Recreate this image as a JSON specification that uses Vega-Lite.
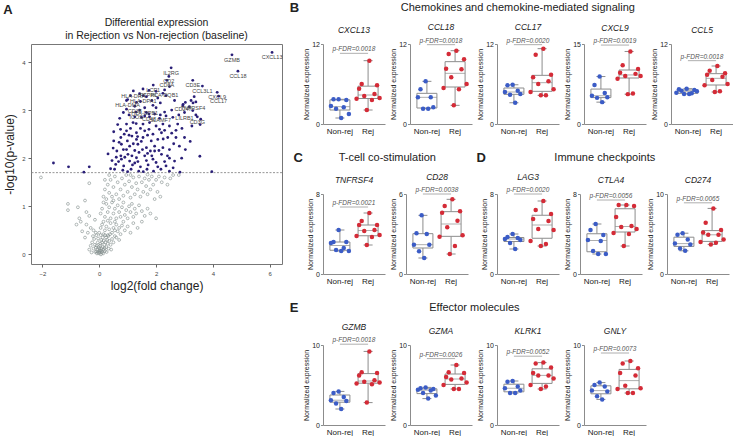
{
"$schema":"https://vega.github.io/schema/vega-lite/v6.json",
"padding":{"left":3,"top":2,"right":0,"bottom":0},
"config":{"view":{"stroke":null},"font":"Liberation Sans","title":{"color":"#222","font":"Liberation Sans"},"axis":{"labelFont":"Liberation Sans","titleFont":"Liberation Sans"}},
"datasets":{
"one":[{}],
"sig":[
{"x":6.08,"y":4.2,"l":"CXCL13"},{"x":4.67,"y":4.15,"l":"GZMB"},{"x":4.88,"y":3.81,"l":"CCL18"},{"x":2.53,"y":3.88,"l":"IL2RG"},{"x":2.45,"y":3.7,"l":"CD2"},{"x":2.38,"y":3.62,"l":"CD8A"},{"x":3.29,"y":3.62,"l":"CD3E"},{"x":3.63,"y":3.5,"l":"CCL3L1"},{"x":4.15,"y":3.37,"l":"CXCL9"},{"x":4.2,"y":3.29,"l":"CCL17"},{"x":1.9,"y":3.52,"l":"LCP1"},{"x":1.2,"y":3.4,"l":"HLA-DRA"},{"x":1.75,"y":3.41,"l":"PTPRC"},{"x":2.3,"y":3.42,"l":"HLA-DQB1"},{"x":1.0,"y":3.22,"l":"HLA-DMA"},{"x":1.55,"y":3.3,"l":"HLA-DPA1"},{"x":1.25,"y":3.08,"l":"CD38"},{"x":1.6,"y":3.05,"l":"HLA-DPB1"},{"x":1.3,"y":2.96,"l":"ICOS"},{"x":1.75,"y":2.92,"l":"CD48"},{"x":2.15,"y":2.9,"l":"SLAMF7"},{"x":3.3,"y":3.15,"l":"TNFRSF4"},{"x":2.95,"y":3.12,"l":"CD247"},{"x":3.0,"y":2.95,"l":"LILRB1"},{"x":3.45,"y":2.86,"l":"CD3G"},
{"x":2.47,"y":3.49},{"x":1.54,"y":3.44},{"x":2.0,"y":3.39},{"x":2.24,"y":3.35},{"x":1.42,"y":3.34},{"x":1.66,"y":3.28},{"x":2.35,"y":3.3},{"x":2.06,"y":3.25},{"x":0.96,"y":3.2},{"x":1.31,"y":3.16},{"x":1.89,"y":3.1},{"x":0.96,"y":3.02},{"x":1.42,"y":3.0},{"x":1.66,"y":2.95},{"x":2.3,"y":2.96},{"x":1.25,"y":2.86},{"x":1.49,"y":2.85},{"x":1.77,"y":2.86},{"x":2.12,"y":2.83},{"x":2.35,"y":2.88},{"x":2.59,"y":2.85},{"x":3.34,"y":3.28},{"x":3.23,"y":3.2},{"x":3.03,"y":3.16},{"x":3.4,"y":3.17},{"x":2.94,"y":3.09},{"x":3.17,"y":3.07},{"x":3.29,"y":2.99},{"x":3.4,"y":2.9},{"x":3.57,"y":2.81},{"x":3.26,"y":2.67},{"x":2.76,"y":2.71},{"x":2.91,"y":2.62},{"x":3.55,"y":2.7},
{"x":0.72,"y":2.83},{"x":0.51,"y":2.55},{"x":0.75,"y":2.6},{"x":0.96,"y":2.71},{"x":1.19,"y":2.74},{"x":1.54,"y":2.71},{"x":1.77,"y":2.74},{"x":2.0,"y":2.67},{"x":2.24,"y":2.71},{"x":2.47,"y":2.67},{"x":0.96,"y":2.57},{"x":1.31,"y":2.53},{"x":1.6,"y":2.57},{"x":1.89,"y":2.5},{"x":2.19,"y":2.53},{"x":0.76,"y":2.43},{"x":0.99,"y":2.36},{"x":1.31,"y":2.39},{"x":1.54,"y":2.43},{"x":1.83,"y":2.36},{"x":2.06,"y":2.39},{"x":2.41,"y":2.43},{"x":2.7,"y":2.43},{"x":3.0,"y":2.43},{"x":0.51,"y":2.36},{"x":0.78,"y":2.29},{"x":1.07,"y":2.25},{"x":1.36,"y":2.29},{"x":1.66,"y":2.22},{"x":1.95,"y":2.25},{"x":2.24,"y":2.22},{"x":2.82,"y":2.25},{"x":0.49,"y":2.21},{"x":0.96,"y":2.18},{"x":1.25,"y":2.16},{"x":1.52,"y":2.18},{"x":1.8,"y":2.15},{"x":2.1,"y":2.16},{"x":2.47,"y":2.18},{"x":3.03,"y":2.18},{"x":0.31,"y":2.09},{"x":0.76,"y":2.05},{"x":1.01,"y":2.08},{"x":1.31,"y":2.01},{"x":1.6,"y":2.05},{"x":1.89,"y":1.98},{"x":2.19,"y":2.08},{"x":2.47,"y":2.0},{"x":3.54,"y":2.04},{"x":0.78,"y":1.98},{"x":1.07,"y":1.94},{"x":1.36,"y":1.93},{"x":1.66,"y":1.95},{"x":2.0,"y":1.91},{"x":2.3,"y":1.93},{"x":2.65,"y":1.94},{"x":0.58,"y":1.87},{"x":0.86,"y":1.84},{"x":1.17,"y":1.86},{"x":1.45,"y":1.82},{"x":1.72,"y":1.86},{"x":2.06,"y":1.82},{"x":2.35,"y":1.84},{"x":0.54,"y":1.77},{"x":0.83,"y":1.75},{"x":1.12,"y":1.77},{"x":1.39,"y":1.73},{"x":1.68,"y":1.77},{"x":1.91,"y":1.73},{"x":2.17,"y":1.77},{"x":2.47,"y":1.73},{"x":2.84,"y":1.71},{"x":3.96,"y":1.72},{"x":-1.61,"y":1.9},{"x":-1.08,"y":1.82},{"x":-0.35,"y":1.82},{"x":-0.54,"y":1.71},
{"x":1.1,"y":2.62},{"x":1.45,"y":2.62},{"x":1.7,"y":2.48},{"x":2.3,"y":2.58},{"x":0.65,"y":2.7},{"x":0.85,"y":2.95},{"x":1.05,"y":2.9},{"x":2.55,"y":3.0},{"x":2.62,"y":2.3},{"x":1.15,"y":2.46},{"x":1.4,"y":2.12},{"x":0.62,"y":2.15},{"x":2.0,"y":3.05},{"x":1.1,"y":3.3},{"x":0.88,"y":2.5},{"x":2.7,"y":2.58},{"x":0.68,"y":1.93},{"x":1.0,"y":1.72},{"x":1.55,"y":1.72},{"x":1.25,"y":1.9},
{"x":0.9,"y":2.02},{"x":1.2,"y":2.3},{"x":1.48,"y":2.35},{"x":1.75,"y":2.6},{"x":2.12,"y":2.6},{"x":0.7,"y":2.33},{"x":1.05,"y":2.48},{"x":1.6,"y":2.88},{"x":1.95,"y":2.92},{"x":0.6,"y":2.02},{"x":1.85,"y":2.05},{"x":2.25,"y":2.4},{"x":0.45,"y":1.95},{"x":1.3,"y":2.72},{"x":1.15,"y":2.05},{"x":1.95,"y":2.15},{"x":2.55,"y":2.52},{"x":0.85,"y":2.18},{"x":1.35,"y":2.45},{"x":1.7,"y":2.1},{"x":2.4,"y":2.05},{"x":0.4,"y":1.78},{"x":2.6,"y":1.8},{"x":2.9,"y":2.0},{"x":3.2,"y":2.35},{"x":1.85,"y":3.2},{"x":1.45,"y":3.18},{"x":2.15,"y":3.15},{"x":2.65,"y":3.2},{"x":2.8,"y":2.9}
],
"ns":[
{"x":0,"y":0.02},{"x":0.02,"y":0.05},{"x":-0.03,"y":0.04},{"x":0.05,"y":0.08},{"x":-0.06,"y":0.1},{"x":0.08,"y":0.12},{"x":-0.1,"y":0.06},{"x":0.1,"y":0.04},{"x":0.12,"y":0.15},{"x":-0.12,"y":0.14},{"x":0.15,"y":0.1},{"x":0.18,"y":0.2},{"x":-0.15,"y":0.2},{"x":0.2,"y":0.07},{"x":0.22,"y":0.25},{"x":-0.2,"y":0.12},{"x":0.25,"y":0.15},{"x":0.28,"y":0.3},{"x":-0.25,"y":0.25},{"x":0.3,"y":0.22},{"x":0.03,"y":0.18},{"x":-0.05,"y":0.25},{"x":0.07,"y":0.3},{"x":0.35,"y":0.28},{"x":-0.3,"y":0.18},{"x":0.4,"y":0.2},{"x":0.12,"y":0.35},{"x":-0.18,"y":0.32},{"x":0.45,"y":0.32},{"x":0.0,"y":0.12},{"x":-0.08,"y":0.02},{"x":0.06,"y":0.0},{"x":0.14,"y":0.02},{"x":0.33,"y":0.12},{"x":-0.35,"y":0.1},
{"x":0.01,"y":0.08},{"x":-0.02,"y":0.15},{"x":0.04,"y":0.22},{"x":0.09,"y":0.06},{"x":-0.09,"y":0.18},{"x":0.16,"y":0.28},{"x":-0.14,"y":0.05},{"x":0.19,"y":0.13},{"x":0.24,"y":0.35},{"x":-0.22,"y":0.38},{"x":0.26,"y":0.05},{"x":0.32,"y":0.38},{"x":-0.04,"y":0.33},{"x":0.1,"y":0.25},{"x":0.38,"y":0.42},{"x":0.5,"y":0.25},{"x":-0.27,"y":0.04},{"x":0.6,"y":0.35},{"x":0.05,"y":0.4},{"x":-0.12,"y":0.45},{"x":0.2,"y":0.4},{"x":0.42,"y":0.1},{"x":0.55,"y":0.5},{"x":0.7,"y":0.3},
{"x":-0.5,"y":0.35},{"x":-0.4,"y":0.45},{"x":-0.6,"y":0.48},{"x":-0.3,"y":0.55},{"x":-0.45,"y":0.62},{"x":-0.2,"y":0.5},{"x":-0.1,"y":0.4},{"x":0.0,"y":0.45},{"x":0.05,"y":0.55},{"x":0.1,"y":0.62},{"x":0.15,"y":0.42},{"x":0.2,"y":0.5},{"x":0.25,"y":0.58},{"x":0.3,"y":0.4},{"x":0.35,"y":0.52},{"x":0.4,"y":0.65},{"x":0.45,"y":0.45},{"x":0.5,"y":0.55},{"x":0.55,"y":0.38},{"x":0.6,"y":0.62},{"x":0.65,"y":0.48},{"x":0.7,"y":0.55},{"x":0.75,"y":0.42},{"x":0.8,"y":0.6},{"x":0.9,"y":0.5},{"x":1.0,"y":0.58},{"x":1.1,"y":0.45},{"x":1.2,"y":0.65},{"x":1.35,"y":0.55},{"x":0.15,"y":0.68},{"x":0.3,"y":0.7},{"x":-0.65,"y":0.68},{"x":-0.8,"y":0.62},{"x":0.55,"y":0.68},{"x":0.85,"y":0.68},{"x":1.5,"y":0.68},
{"x":-0.7,"y":0.75},{"x":-0.35,"y":0.8},{"x":-0.15,"y":0.72},{"x":0.05,"y":0.85},{"x":0.1,"y":0.95},{"x":0.2,"y":0.78},{"x":0.25,"y":1.05},{"x":0.3,"y":0.88},{"x":0.35,"y":0.98},{"x":0.4,"y":0.75},{"x":0.45,"y":1.08},{"x":0.5,"y":0.85},{"x":0.55,"y":0.95},{"x":0.6,"y":0.75},{"x":0.65,"y":1.02},{"x":0.7,"y":0.88},{"x":0.75,"y":0.78},{"x":0.8,"y":0.98},{"x":0.85,"y":1.08},{"x":0.9,"y":0.82},{"x":0.95,"y":0.92},{"x":1.0,"y":0.75},{"x":1.05,"y":1.0},{"x":1.1,"y":0.88},{"x":1.15,"y":1.05},{"x":1.2,"y":0.78},{"x":1.25,"y":0.95},{"x":1.3,"y":0.85},{"x":1.4,"y":1.02},{"x":1.5,"y":0.9},{"x":1.6,"y":0.8},{"x":1.7,"y":0.95},{"x":1.8,"y":0.85},{"x":2.0,"y":0.75},{"x":-1.1,"y":1.05},{"x":-1.1,"y":0.92},{"x":-0.75,"y":0.98},{"x":-0.5,"y":1.12},{"x":-0.45,"y":0.88},{"x":0.15,"y":1.08},
{"x":0.15,"y":1.2},{"x":0.2,"y":1.35},{"x":0.25,"y":1.15},{"x":0.3,"y":1.45},{"x":0.35,"y":1.28},{"x":0.4,"y":1.55},{"x":0.45,"y":1.2},{"x":0.5,"y":1.4},{"x":0.55,"y":1.62},{"x":0.6,"y":1.25},{"x":0.65,"y":1.5},{"x":0.7,"y":1.15},{"x":0.75,"y":1.35},{"x":0.8,"y":1.58},{"x":0.85,"y":1.22},{"x":0.9,"y":1.45},{"x":0.95,"y":1.65},{"x":1.0,"y":1.3},{"x":1.05,"y":1.52},{"x":1.1,"y":1.18},{"x":1.15,"y":1.4},{"x":1.2,"y":1.6},{"x":1.25,"y":1.25},{"x":1.3,"y":1.48},{"x":1.35,"y":1.35},{"x":1.4,"y":1.62},{"x":1.45,"y":1.2},{"x":1.5,"y":1.5},{"x":1.55,"y":1.3},{"x":1.6,"y":1.58},{"x":1.65,"y":1.42},{"x":1.7,"y":1.25},{"x":1.75,"y":1.55},{"x":1.8,"y":1.35},{"x":1.85,"y":1.62},{"x":1.9,"y":1.45},{"x":2.0,"y":1.55},{"x":2.05,"y":1.3},{"x":2.1,"y":1.62},{"x":2.2,"y":1.5},{"x":2.3,"y":1.6},{"x":2.4,"y":1.45},{"x":2.5,"y":1.58},{"x":2.15,"y":1.2},{"x":1.95,"y":1.15},{"x":2.6,"y":1.65},{"x":2.8,"y":1.65},{"x":0.35,"y":1.65},{"x":-0.35,"y":1.48},{"x":-2.05,"y":1.6},{"x":0.2,"y":1.55},{"x":0.5,"y":1.12},{"x":1.1,"y":1.65},{"x":1.7,"y":1.66}
],
"expr":[
{"k":"CXCL13","g":"Non-rej","i":5,"v":3.7},{"k":"CXCL13","g":"Non-rej","i":3,"v":3.7},{"k":"CXCL13","g":"Non-rej","i":8,"v":3.6},{"k":"CXCL13","g":"Non-rej","i":2,"v":2.7},{"k":"CXCL13","g":"Non-rej","i":7,"v":2.5},{"k":"CXCL13","g":"Non-rej","i":4,"v":2.3},{"k":"CXCL13","g":"Non-rej","i":9,"v":1.5},{"k":"CXCL13","g":"Non-rej","i":6,"v":0.9},
{"k":"CXCL13","g":"Rej","i":6,"v":9.5},{"k":"CXCL13","g":"Rej","i":3,"v":6.0},{"k":"CXCL13","g":"Rej","i":9,"v":5.8},{"k":"CXCL13","g":"Rej","i":2,"v":5.3},{"k":"CXCL13","g":"Rej","i":8,"v":4.5},{"k":"CXCL13","g":"Rej","i":4,"v":4.2},{"k":"CXCL13","g":"Rej","i":10,"v":3.9},{"k":"CXCL13","g":"Rej","i":1,"v":3.8},{"k":"CXCL13","g":"Rej","i":7,"v":3.6},{"k":"CXCL13","g":"Rej","i":5,"v":2.1},
{"k":"CCL18","g":"Non-rej","i":5,"v":6.4},{"k":"CCL18","g":"Non-rej","i":3,"v":5.2},{"k":"CCL18","g":"Non-rej","i":7,"v":4.0},{"k":"CCL18","g":"Non-rej","i":2,"v":4.0},{"k":"CCL18","g":"Non-rej","i":8,"v":2.5},{"k":"CCL18","g":"Non-rej","i":4,"v":2.3},{"k":"CCL18","g":"Non-rej","i":6,"v":2.3},
{"k":"CCL18","g":"Rej","i":6,"v":11.0},{"k":"CCL18","g":"Rej","i":3,"v":10.5},{"k":"CCL18","g":"Rej","i":9,"v":9.7},{"k":"CCL18","g":"Rej","i":2,"v":8.3},{"k":"CCL18","g":"Rej","i":8,"v":8.2},{"k":"CCL18","g":"Rej","i":4,"v":7.0},{"k":"CCL18","g":"Rej","i":10,"v":6.0},{"k":"CCL18","g":"Rej","i":1,"v":5.4},{"k":"CCL18","g":"Rej","i":7,"v":5.2},{"k":"CCL18","g":"Rej","i":5,"v":2.8},
{"k":"CCL17","g":"Non-rej","i":5,"v":5.9},{"k":"CCL17","g":"Non-rej","i":3,"v":5.8},{"k":"CCL17","g":"Non-rej","i":7,"v":5.0},{"k":"CCL17","g":"Non-rej","i":2,"v":4.8},{"k":"CCL17","g":"Non-rej","i":8,"v":4.5},{"k":"CCL17","g":"Non-rej","i":4,"v":4.4},{"k":"CCL17","g":"Non-rej","i":6,"v":3.2},
{"k":"CCL17","g":"Rej","i":6,"v":11.3},{"k":"CCL17","g":"Rej","i":3,"v":10.4},{"k":"CCL17","g":"Rej","i":9,"v":7.4},{"k":"CCL17","g":"Rej","i":2,"v":7.0},{"k":"CCL17","g":"Rej","i":8,"v":6.4},{"k":"CCL17","g":"Rej","i":4,"v":6.0},{"k":"CCL17","g":"Rej","i":10,"v":5.2},{"k":"CCL17","g":"Rej","i":1,"v":4.8},{"k":"CCL17","g":"Rej","i":7,"v":4.3},{"k":"CCL17","g":"Rej","i":5,"v":4.3},
{"k":"CXCL9","g":"Non-rej","i":5,"v":8.9},{"k":"CXCL9","g":"Non-rej","i":3,"v":7.3},{"k":"CXCL9","g":"Non-rej","i":7,"v":5.8},{"k":"CXCL9","g":"Non-rej","i":2,"v":5.3},{"k":"CXCL9","g":"Non-rej","i":8,"v":5.0},{"k":"CXCL9","g":"Non-rej","i":4,"v":4.9},{"k":"CXCL9","g":"Non-rej","i":6,"v":4.1},
{"k":"CXCL9","g":"Rej","i":6,"v":13.6},{"k":"CXCL9","g":"Rej","i":3,"v":11.0},{"k":"CXCL9","g":"Rej","i":9,"v":10.3},{"k":"CXCL9","g":"Rej","i":2,"v":9.6},{"k":"CXCL9","g":"Rej","i":8,"v":9.4},{"k":"CXCL9","g":"Rej","i":4,"v":9.0},{"k":"CXCL9","g":"Rej","i":10,"v":9.0},{"k":"CXCL9","g":"Rej","i":1,"v":8.5},{"k":"CXCL9","g":"Rej","i":7,"v":5.7},{"k":"CXCL9","g":"Rej","i":5,"v":5.6},
{"k":"CCL5","g":"Non-rej","i":5,"v":5.3},{"k":"CCL5","g":"Non-rej","i":2,"v":5.2},{"k":"CCL5","g":"Non-rej","i":8,"v":5.1},{"k":"CCL5","g":"Non-rej","i":3,"v":5.0},{"k":"CCL5","g":"Non-rej","i":9,"v":4.9},{"k":"CCL5","g":"Non-rej","i":1,"v":4.7},{"k":"CCL5","g":"Non-rej","i":7,"v":4.6},{"k":"CCL5","g":"Non-rej","i":4,"v":4.5},{"k":"CCL5","g":"Non-rej","i":6,"v":4.5},
{"k":"CCL5","g":"Rej","i":6,"v":8.7},{"k":"CCL5","g":"Rej","i":3,"v":8.0},{"k":"CCL5","g":"Rej","i":9,"v":7.6},{"k":"CCL5","g":"Rej","i":2,"v":7.4},{"k":"CCL5","g":"Rej","i":8,"v":7.1},{"k":"CCL5","g":"Rej","i":4,"v":6.6},{"k":"CCL5","g":"Rej","i":10,"v":6.0},{"k":"CCL5","g":"Rej","i":1,"v":5.8},{"k":"CCL5","g":"Rej","i":7,"v":4.9},{"k":"CCL5","g":"Rej","i":5,"v":4.8},
{"k":"TNFRSF4","g":"Non-rej","i":5,"v":4.4},{"k":"TNFRSF4","g":"Non-rej","i":3,"v":3.2},{"k":"TNFRSF4","g":"Non-rej","i":8,"v":3.2},{"k":"TNFRSF4","g":"Non-rej","i":2,"v":3.1},{"k":"TNFRSF4","g":"Non-rej","i":7,"v":2.6},{"k":"TNFRSF4","g":"Non-rej","i":4,"v":2.4},{"k":"TNFRSF4","g":"Non-rej","i":9,"v":2.3},{"k":"TNFRSF4","g":"Non-rej","i":6,"v":2.3},
{"k":"TNFRSF4","g":"Rej","i":6,"v":6.1},{"k":"TNFRSF4","g":"Rej","i":3,"v":5.3},{"k":"TNFRSF4","g":"Rej","i":9,"v":4.9},{"k":"TNFRSF4","g":"Rej","i":2,"v":4.9},{"k":"TNFRSF4","g":"Rej","i":8,"v":4.4},{"k":"TNFRSF4","g":"Rej","i":4,"v":4.3},{"k":"TNFRSF4","g":"Rej","i":10,"v":3.9},{"k":"TNFRSF4","g":"Rej","i":1,"v":3.8},{"k":"TNFRSF4","g":"Rej","i":7,"v":3.7},{"k":"TNFRSF4","g":"Rej","i":5,"v":2.9},
{"k":"CD28","g":"Non-rej","i":5,"v":4.4},{"k":"CD28","g":"Non-rej","i":3,"v":3.05},{"k":"CD28","g":"Non-rej","i":7,"v":3.0},{"k":"CD28","g":"Non-rej","i":2,"v":2.2},{"k":"CD28","g":"Non-rej","i":8,"v":2.2},{"k":"CD28","g":"Non-rej","i":4,"v":1.7},{"k":"CD28","g":"Non-rej","i":6,"v":1.2},
{"k":"CD28","g":"Rej","i":6,"v":5.6},{"k":"CD28","g":"Rej","i":3,"v":5.1},{"k":"CD28","g":"Rej","i":9,"v":4.7},{"k":"CD28","g":"Rej","i":2,"v":4.6},{"k":"CD28","g":"Rej","i":8,"v":4.0},{"k":"CD28","g":"Rej","i":4,"v":3.5},{"k":"CD28","g":"Rej","i":10,"v":2.9},{"k":"CD28","g":"Rej","i":1,"v":2.8},{"k":"CD28","g":"Rej","i":7,"v":2.1},{"k":"CD28","g":"Rej","i":5,"v":1.5},
{"k":"LAG3","g":"Non-rej","i":5,"v":4.0},{"k":"LAG3","g":"Non-rej","i":3,"v":3.7},{"k":"LAG3","g":"Non-rej","i":7,"v":3.6},{"k":"LAG3","g":"Non-rej","i":2,"v":3.5},{"k":"LAG3","g":"Non-rej","i":8,"v":3.4},{"k":"LAG3","g":"Non-rej","i":4,"v":3.1},{"k":"LAG3","g":"Non-rej","i":6,"v":2.5},
{"k":"LAG3","g":"Rej","i":6,"v":7.3},{"k":"LAG3","g":"Rej","i":3,"v":6.4},{"k":"LAG3","g":"Rej","i":9,"v":6.0},{"k":"LAG3","g":"Rej","i":2,"v":5.5},{"k":"LAG3","g":"Rej","i":8,"v":5.3},{"k":"LAG3","g":"Rej","i":4,"v":4.5},{"k":"LAG3","g":"Rej","i":10,"v":4.4},{"k":"LAG3","g":"Rej","i":1,"v":3.3},{"k":"LAG3","g":"Rej","i":7,"v":3.0},{"k":"LAG3","g":"Rej","i":5,"v":2.8},
{"k":"CTLA4","g":"Non-rej","i":5,"v":5.0},{"k":"CTLA4","g":"Non-rej","i":3,"v":4.4},{"k":"CTLA4","g":"Non-rej","i":8,"v":3.9},{"k":"CTLA4","g":"Non-rej","i":2,"v":3.4},{"k":"CTLA4","g":"Non-rej","i":7,"v":3.3},{"k":"CTLA4","g":"Non-rej","i":4,"v":2.3},{"k":"CTLA4","g":"Non-rej","i":9,"v":2.0},{"k":"CTLA4","g":"Non-rej","i":6,"v":2.0},
{"k":"CTLA4","g":"Rej","i":6,"v":6.9},{"k":"CTLA4","g":"Rej","i":3,"v":6.9},{"k":"CTLA4","g":"Rej","i":9,"v":6.8},{"k":"CTLA4","g":"Rej","i":2,"v":5.7},{"k":"CTLA4","g":"Rej","i":8,"v":4.8},{"k":"CTLA4","g":"Rej","i":4,"v":4.7},{"k":"CTLA4","g":"Rej","i":10,"v":4.5},{"k":"CTLA4","g":"Rej","i":1,"v":4.1},{"k":"CTLA4","g":"Rej","i":7,"v":4.0},{"k":"CTLA4","g":"Rej","i":5,"v":2.8},
{"k":"CD274","g":"Non-rej","i":5,"v":5.1},{"k":"CD274","g":"Non-rej","i":3,"v":4.9},{"k":"CD274","g":"Non-rej","i":7,"v":4.3},{"k":"CD274","g":"Non-rej","i":2,"v":3.8},{"k":"CD274","g":"Non-rej","i":8,"v":3.7},{"k":"CD274","g":"Non-rej","i":4,"v":3.2},{"k":"CD274","g":"Non-rej","i":6,"v":2.9},
{"k":"CD274","g":"Rej","i":6,"v":8.2},{"k":"CD274","g":"Rej","i":3,"v":6.4},{"k":"CD274","g":"Rej","i":9,"v":5.5},{"k":"CD274","g":"Rej","i":2,"v":5.2},{"k":"CD274","g":"Rej","i":8,"v":4.9},{"k":"CD274","g":"Rej","i":4,"v":4.9},{"k":"CD274","g":"Rej","i":10,"v":4.3},{"k":"CD274","g":"Rej","i":1,"v":4.0},{"k":"CD274","g":"Rej","i":7,"v":3.9},{"k":"CD274","g":"Rej","i":5,"v":3.7},
{"k":"GZMB","g":"Non-rej","i":5,"v":4.2},{"k":"GZMB","g":"Non-rej","i":3,"v":4.0},{"k":"GZMB","g":"Non-rej","i":7,"v":3.5},{"k":"GZMB","g":"Non-rej","i":2,"v":3.1},{"k":"GZMB","g":"Non-rej","i":8,"v":3.0},{"k":"GZMB","g":"Non-rej","i":4,"v":2.7},{"k":"GZMB","g":"Non-rej","i":6,"v":2.0},
{"k":"GZMB","g":"Rej","i":6,"v":9.2},{"k":"GZMB","g":"Rej","i":3,"v":6.6},{"k":"GZMB","g":"Rej","i":9,"v":6.5},{"k":"GZMB","g":"Rej","i":2,"v":6.2},{"k":"GZMB","g":"Rej","i":8,"v":5.6},{"k":"GZMB","g":"Rej","i":4,"v":5.4},{"k":"GZMB","g":"Rej","i":10,"v":5.3},{"k":"GZMB","g":"Rej","i":1,"v":5.2},{"k":"GZMB","g":"Rej","i":7,"v":5.1},{"k":"GZMB","g":"Rej","i":5,"v":2.8},
{"k":"GZMA","g":"Non-rej","i":5,"v":4.7},{"k":"GZMA","g":"Non-rej","i":3,"v":4.6},{"k":"GZMA","g":"Non-rej","i":8,"v":4.5},{"k":"GZMA","g":"Non-rej","i":2,"v":4.4},{"k":"GZMA","g":"Non-rej","i":7,"v":4.3},{"k":"GZMA","g":"Non-rej","i":4,"v":4.0},{"k":"GZMA","g":"Non-rej","i":9,"v":3.7},{"k":"GZMA","g":"Non-rej","i":6,"v":3.3},
{"k":"GZMA","g":"Rej","i":6,"v":7.5},{"k":"GZMA","g":"Rej","i":3,"v":6.6},{"k":"GZMA","g":"Rej","i":9,"v":6.5},{"k":"GZMA","g":"Rej","i":2,"v":6.0},{"k":"GZMA","g":"Rej","i":8,"v":5.8},{"k":"GZMA","g":"Rej","i":4,"v":5.7},{"k":"GZMA","g":"Rej","i":10,"v":5.3},{"k":"GZMA","g":"Rej","i":1,"v":5.0},{"k":"GZMA","g":"Rej","i":7,"v":4.5},{"k":"GZMA","g":"Rej","i":5,"v":4.5},
{"k":"KLRK1","g":"Non-rej","i":5,"v":5.5},{"k":"KLRK1","g":"Non-rej","i":3,"v":5.4},{"k":"KLRK1","g":"Non-rej","i":7,"v":4.8},{"k":"KLRK1","g":"Non-rej","i":2,"v":4.6},{"k":"KLRK1","g":"Non-rej","i":8,"v":4.3},{"k":"KLRK1","g":"Non-rej","i":4,"v":4.0},{"k":"KLRK1","g":"Non-rej","i":6,"v":4.0},
{"k":"KLRK1","g":"Rej","i":6,"v":7.8},{"k":"KLRK1","g":"Rej","i":3,"v":7.7},{"k":"KLRK1","g":"Rej","i":9,"v":7.2},{"k":"KLRK1","g":"Rej","i":2,"v":6.5},{"k":"KLRK1","g":"Rej","i":8,"v":6.2},{"k":"KLRK1","g":"Rej","i":4,"v":6.2},{"k":"KLRK1","g":"Rej","i":10,"v":5.8},{"k":"KLRK1","g":"Rej","i":1,"v":5.0},{"k":"KLRK1","g":"Rej","i":7,"v":4.8},{"k":"KLRK1","g":"Rej","i":5,"v":4.5},
{"k":"GNLY","g":"Non-rej","i":5,"v":5.3},{"k":"GNLY","g":"Non-rej","i":3,"v":5.0},{"k":"GNLY","g":"Non-rej","i":7,"v":4.8},{"k":"GNLY","g":"Non-rej","i":2,"v":4.3},{"k":"GNLY","g":"Non-rej","i":8,"v":4.2},{"k":"GNLY","g":"Non-rej","i":4,"v":3.6},{"k":"GNLY","g":"Non-rej","i":6,"v":3.2},
{"k":"GNLY","g":"Rej","i":6,"v":8.0},{"k":"GNLY","g":"Rej","i":3,"v":7.7},{"k":"GNLY","g":"Rej","i":9,"v":7.1},{"k":"GNLY","g":"Rej","i":2,"v":6.5},{"k":"GNLY","g":"Rej","i":8,"v":6.2},{"k":"GNLY","g":"Rej","i":4,"v":4.9},{"k":"GNLY","g":"Rej","i":10,"v":4.6},{"k":"GNLY","g":"Rej","i":1,"v":4.5},{"k":"GNLY","g":"Rej","i":7,"v":4.0},{"k":"GNLY","g":"Rej","i":5,"v":4.0}
]
},
"spacing":6,
"hconcat":[
{"title":{"text":"A","anchor":"start","frame":"bounds","fontSize":13,"fontWeight":"bold","offset":0},
 "vconcat":[
 {"width":251,"height":220,
  "view":{"stroke":"#777"},
  "title":{"text":["Differential expression","in Rejection vs Non-rejection (baseline)"],"fontSize":10.5,"fontWeight":"normal","lineHeight":13,"offset":3,"frame":"group","anchor":"middle"},
  "layer":[
   {"data":{"name":"ns"},"mark":{"type":"point","shape":"circle","size":8,"strokeWidth":0.6,"color":"#7f8c8a","filled":false,"opacity":1},
    "encoding":{"x":{"field":"x","type":"quantitative","scale":{"domain":[-2.4,6.43],"nice":false,"zero":false},"axis":{"values":[-2,0,2,4,6],"title":"log2(fold change)","titleFontSize":12,"titleFontWeight":"normal","titleColor":"#222","labelFontSize":6,"labelColor":"#444","tickSize":3,"tickColor":"#666","domain":false,"grid":false,"titlePadding":4,"labelPadding":3}},
     "y":{"field":"y","type":"quantitative","scale":{"domain":[-0.2,4.375],"nice":false,"zero":false},"axis":{"values":[0,1,2,3,4],"title":"-log10(p-value)","titleFontSize":12,"titleFontWeight":"normal","titleColor":"#222","labelFontSize":6,"labelColor":"#444","tickSize":3,"tickColor":"#666","domain":false,"grid":false,"titlePadding":5,"labelPadding":3}}}},
   {"data":{"name":"one"},"mark":{"type":"rule","color":"#8a8a8a","strokeDash":[2,1.5],"strokeWidth":0.9},"encoding":{"y":{"datum":1.7}}},
   {"data":{"name":"sig"},"mark":{"type":"circle","size":8,"color":"#2a1f78","opacity":1},
    "encoding":{"x":{"field":"x","type":"quantitative"},"y":{"field":"y","type":"quantitative"}}},
   {"data":{"name":"sig"},"transform":[{"filter":"datum.l"}],"mark":{"type":"text","fontSize":5.5,"dy":5,"color":"#444"},
    "encoding":{"x":{"field":"x","type":"quantitative"},"y":{"field":"y","type":"quantitative"},"text":{"field":"l"}}}
  ]}
 ]},
{"spacing":16,
 "vconcat":[
 {"title":{"text":"B","anchor":"start","frame":"bounds","fontSize":13,"fontWeight":"bold","offset":-13,"dx":-13},
  "vconcat":[{"title":{"text":"Chemokines and chemokine-mediated signaling","fontSize":11,"fontWeight":"normal","offset":10,"anchor":"middle"},
   "spacing":4,
   "hconcat":[
    {"title":{"text":"CXCL13","fontSize":8.5,"fontStyle":"italic","fontWeight":"normal","offset":6},"width":62,"height":80,"data":{"name":"expr"},"transform":[{"filter":"datum.k==='CXCL13'"}],
     "layer":[
      {"mark":{"type":"boxplot","extent":"min-max","size":20,"box":{"fill":"white","stroke":"#8c8c8c","strokeWidth":1},"median":{"color":"#8c8c8c","strokeWidth":1},"rule":{"color":"#8c8c8c"},"ticks":{"color":"#8c8c8c","size":9}},
       "encoding":{"x":{"field":"g","type":"nominal","scale":{"domain":["Non-rej","Rej"],"paddingInner":0,"paddingOuter":0.1},"axis":{"title":null,"labelAngle":0,"labelFontSize":8,"ticks":false,"domainColor":"#8c8c8c","labelColor":"#222","labelPadding":3}},
        "y":{"field":"v","type":"quantitative","scale":{"domain":[0,12],"nice":false},"axis":{"values":[0,4,8,12],"title":"Normalized expression","titleFontSize":7,"titleFontWeight":"normal","titleColor":"#222","titlePadding":2,"labelFontSize":7,"labelColor":"#222","labelPadding":1,"tickSize":2.5,"tickColor":"#8c8c8c","domainColor":"#8c8c8c","grid":false}}}},
      {"mark":{"type":"circle","size":20,"opacity":1},"encoding":{"x":{"field":"g","type":"nominal"},"xOffset":{"field":"i","type":"ordinal","scale":{"type":"point","padding":1.5,"domain":[1,2,3,4,5,6,7,8,9,10]}},"y":{"field":"v","type":"quantitative"},"color":{"field":"g","type":"nominal","scale":{"domain":["Non-rej","Rej"],"range":["#3b5cc6","#d42b37"]},"legend":null}}},
      {"data":{"name":"one"},"mark":{"type":"rule","color":"#9a9a9a","strokeWidth":0.8},"encoding":{"x":{"datum":"Non-rej"},"x2":{"datum":"Rej"},"y":{"datum":10.6}}},
      {"data":{"name":"one"},"mark":{"type":"text","fontSize":6.5,"fontStyle":"italic","baseline":"bottom","dy":-1,"dx":14,"color":"#555"},"encoding":{"x":{"datum":"Non-rej"},"y":{"datum":10.6},"text":{"value":"p-FDR=0.0018"}}}
     ]},
    {"title":{"text":"CCL18","fontSize":8.5,"fontStyle":"italic","fontWeight":"normal","offset":6},"width":62,"height":80,"data":{"name":"expr"},"transform":[{"filter":"datum.k==='CCL18'"}],
     "layer":[
      {"mark":{"type":"boxplot","extent":"min-max","size":20,"box":{"fill":"white","stroke":"#8c8c8c","strokeWidth":1},"median":{"color":"#8c8c8c","strokeWidth":1},"rule":{"color":"#8c8c8c"},"ticks":{"color":"#8c8c8c","size":9}},
       "encoding":{"x":{"field":"g","type":"nominal","scale":{"domain":["Non-rej","Rej"],"paddingInner":0,"paddingOuter":0.1},"axis":{"title":null,"labelAngle":0,"labelFontSize":8,"ticks":false,"domainColor":"#8c8c8c","labelColor":"#222","labelPadding":3}},
        "y":{"field":"v","type":"quantitative","scale":{"domain":[0,12],"nice":false},"axis":{"values":[0,4,8,12],"title":"Normalized expression","titleFontSize":7,"titleFontWeight":"normal","titleColor":"#222","titlePadding":2,"labelFontSize":7,"labelColor":"#222","labelPadding":1,"tickSize":2.5,"tickColor":"#8c8c8c","domainColor":"#8c8c8c","grid":false}}}},
      {"mark":{"type":"circle","size":20,"opacity":1},"encoding":{"x":{"field":"g","type":"nominal"},"xOffset":{"field":"i","type":"ordinal","scale":{"type":"point","padding":1.5,"domain":[1,2,3,4,5,6,7,8,9,10]}},"y":{"field":"v","type":"quantitative"},"color":{"field":"g","type":"nominal","scale":{"domain":["Non-rej","Rej"],"range":["#3b5cc6","#d42b37"]},"legend":null}}},
      {"data":{"name":"one"},"mark":{"type":"rule","color":"#9a9a9a","strokeWidth":0.8},"encoding":{"x":{"datum":"Non-rej"},"x2":{"datum":"Rej"},"y":{"datum":11.9}}},
      {"data":{"name":"one"},"mark":{"type":"text","fontSize":6.5,"fontStyle":"italic","baseline":"bottom","dy":-1,"dx":14,"color":"#555"},"encoding":{"x":{"datum":"Non-rej"},"y":{"datum":11.9},"text":{"value":"p-FDR=0.0018"}}}
     ]},
    {"title":{"text":"CCL17","fontSize":8.5,"fontStyle":"italic","fontWeight":"normal","offset":6},"width":62,"height":80,"data":{"name":"expr"},"transform":[{"filter":"datum.k==='CCL17'"}],
     "layer":[
      {"mark":{"type":"boxplot","extent":"min-max","size":20,"box":{"fill":"white","stroke":"#8c8c8c","strokeWidth":1},"median":{"color":"#8c8c8c","strokeWidth":1},"rule":{"color":"#8c8c8c"},"ticks":{"color":"#8c8c8c","size":9}},
       "encoding":{"x":{"field":"g","type":"nominal","scale":{"domain":["Non-rej","Rej"],"paddingInner":0,"paddingOuter":0.1},"axis":{"title":null,"labelAngle":0,"labelFontSize":8,"ticks":false,"domainColor":"#8c8c8c","labelColor":"#222","labelPadding":3}},
        "y":{"field":"v","type":"quantitative","scale":{"domain":[0,12],"nice":false},"axis":{"values":[0,4,8,12],"title":"Normalized expression","titleFontSize":7,"titleFontWeight":"normal","titleColor":"#222","titlePadding":2,"labelFontSize":7,"labelColor":"#222","labelPadding":1,"tickSize":2.5,"tickColor":"#8c8c8c","domainColor":"#8c8c8c","grid":false}}}},
      {"mark":{"type":"circle","size":20,"opacity":1},"encoding":{"x":{"field":"g","type":"nominal"},"xOffset":{"field":"i","type":"ordinal","scale":{"type":"point","padding":1.5,"domain":[1,2,3,4,5,6,7,8,9,10]}},"y":{"field":"v","type":"quantitative"},"color":{"field":"g","type":"nominal","scale":{"domain":["Non-rej","Rej"],"range":["#3b5cc6","#d42b37"]},"legend":null}}},
      {"data":{"name":"one"},"mark":{"type":"rule","color":"#9a9a9a","strokeWidth":0.8},"encoding":{"x":{"datum":"Non-rej"},"x2":{"datum":"Rej"},"y":{"datum":11.9}}},
      {"data":{"name":"one"},"mark":{"type":"text","fontSize":6.5,"fontStyle":"italic","baseline":"bottom","dy":-1,"dx":14,"color":"#555"},"encoding":{"x":{"datum":"Non-rej"},"y":{"datum":11.9},"text":{"value":"p-FDR=0.0020"}}}
     ]},
    {"title":{"text":"CXCL9","fontSize":8.5,"fontStyle":"italic","fontWeight":"normal","offset":6},"width":62,"height":80,"data":{"name":"expr"},"transform":[{"filter":"datum.k==='CXCL9'"}],
     "layer":[
      {"mark":{"type":"boxplot","extent":"min-max","size":20,"box":{"fill":"white","stroke":"#8c8c8c","strokeWidth":1},"median":{"color":"#8c8c8c","strokeWidth":1},"rule":{"color":"#8c8c8c"},"ticks":{"color":"#8c8c8c","size":9}},
       "encoding":{"x":{"field":"g","type":"nominal","scale":{"domain":["Non-rej","Rej"],"paddingInner":0,"paddingOuter":0.1},"axis":{"title":null,"labelAngle":0,"labelFontSize":8,"ticks":false,"domainColor":"#8c8c8c","labelColor":"#222","labelPadding":3}},
        "y":{"field":"v","type":"quantitative","scale":{"domain":[0,15],"nice":false},"axis":{"values":[0,5,10,15],"title":"Normalized expression","titleFontSize":7,"titleFontWeight":"normal","titleColor":"#222","titlePadding":2,"labelFontSize":7,"labelColor":"#222","labelPadding":1,"tickSize":2.5,"tickColor":"#8c8c8c","domainColor":"#8c8c8c","grid":false}}}},
      {"mark":{"type":"circle","size":20,"opacity":1},"encoding":{"x":{"field":"g","type":"nominal"},"xOffset":{"field":"i","type":"ordinal","scale":{"type":"point","padding":1.5,"domain":[1,2,3,4,5,6,7,8,9,10]}},"y":{"field":"v","type":"quantitative"},"color":{"field":"g","type":"nominal","scale":{"domain":["Non-rej","Rej"],"range":["#3b5cc6","#d42b37"]},"legend":null}}},
      {"data":{"name":"one"},"mark":{"type":"rule","color":"#9a9a9a","strokeWidth":0.8},"encoding":{"x":{"datum":"Non-rej"},"x2":{"datum":"Rej"},"y":{"datum":14.8}}},
      {"data":{"name":"one"},"mark":{"type":"text","fontSize":6.5,"fontStyle":"italic","baseline":"bottom","dy":-1,"dx":14,"color":"#555"},"encoding":{"x":{"datum":"Non-rej"},"y":{"datum":14.8},"text":{"value":"p-FDR=0.0019"}}}
     ]},
    {"title":{"text":"CCL5","fontSize":8.5,"fontStyle":"italic","fontWeight":"normal","offset":6},"width":62,"height":80,"data":{"name":"expr"},"transform":[{"filter":"datum.k==='CCL5'"}],
     "layer":[
      {"mark":{"type":"boxplot","extent":"min-max","size":20,"box":{"fill":"white","stroke":"#8c8c8c","strokeWidth":1},"median":{"color":"#8c8c8c","strokeWidth":1},"rule":{"color":"#8c8c8c"},"ticks":{"color":"#8c8c8c","size":9}},
       "encoding":{"x":{"field":"g","type":"nominal","scale":{"domain":["Non-rej","Rej"],"paddingInner":0,"paddingOuter":0.1},"axis":{"title":null,"labelAngle":0,"labelFontSize":8,"ticks":false,"domainColor":"#8c8c8c","labelColor":"#222","labelPadding":3}},
        "y":{"field":"v","type":"quantitative","scale":{"domain":[0,12],"nice":false},"axis":{"values":[0,4,8,12],"title":"Normalized expression","titleFontSize":7,"titleFontWeight":"normal","titleColor":"#222","titlePadding":2,"labelFontSize":7,"labelColor":"#222","labelPadding":1,"tickSize":2.5,"tickColor":"#8c8c8c","domainColor":"#8c8c8c","grid":false}}}},
      {"mark":{"type":"circle","size":20,"opacity":1},"encoding":{"x":{"field":"g","type":"nominal"},"xOffset":{"field":"i","type":"ordinal","scale":{"type":"point","padding":1.5,"domain":[1,2,3,4,5,6,7,8,9,10]}},"y":{"field":"v","type":"quantitative"},"color":{"field":"g","type":"nominal","scale":{"domain":["Non-rej","Rej"],"range":["#3b5cc6","#d42b37"]},"legend":null}}},
      {"data":{"name":"one"},"mark":{"type":"rule","color":"#9a9a9a","strokeWidth":0.8},"encoding":{"x":{"datum":"Non-rej"},"x2":{"datum":"Rej"},"y":{"datum":9.5}}},
      {"data":{"name":"one"},"mark":{"type":"text","fontSize":6.5,"fontStyle":"italic","baseline":"bottom","dy":-1,"dx":14,"color":"#555"},"encoding":{"x":{"datum":"Non-rej"},"y":{"datum":9.5},"text":{"value":"p-FDR=0.0018"}}}
     ]}
   ]}]},
 {"spacing":8,
  "hconcat":[
  {"title":{"text":"C","anchor":"start","frame":"bounds","fontSize":13,"fontWeight":"bold","offset":-13,"dx":-13},
   "vconcat":[{"title":{"text":"T-cell co-stimulation","fontSize":11,"fontWeight":"normal","offset":10,"anchor":"middle"},
    "spacing":4,
    "hconcat":[
    {"title":{"text":"TNFRSF4","fontSize":8.5,"fontStyle":"italic","fontWeight":"normal","offset":6},"width":62,"height":80,"data":{"name":"expr"},"transform":[{"filter":"datum.k==='TNFRSF4'"}],
     "layer":[
      {"mark":{"type":"boxplot","extent":"min-max","size":20,"box":{"fill":"white","stroke":"#8c8c8c","strokeWidth":1},"median":{"color":"#8c8c8c","strokeWidth":1},"rule":{"color":"#8c8c8c"},"ticks":{"color":"#8c8c8c","size":9}},
       "encoding":{"x":{"field":"g","type":"nominal","scale":{"domain":["Non-rej","Rej"],"paddingInner":0,"paddingOuter":0.1},"axis":{"title":null,"labelAngle":0,"labelFontSize":8,"ticks":false,"domainColor":"#8c8c8c","labelColor":"#222","labelPadding":3}},
        "y":{"field":"v","type":"quantitative","scale":{"domain":[0,8],"nice":false},"axis":{"values":[0,2,4,6,8],"title":"Normalized expression","titleFontSize":7,"titleFontWeight":"normal","titleColor":"#222","titlePadding":2,"labelFontSize":7,"labelColor":"#222","labelPadding":1,"tickSize":2.5,"tickColor":"#8c8c8c","domainColor":"#8c8c8c","grid":false}}}},
      {"mark":{"type":"circle","size":20,"opacity":1},"encoding":{"x":{"field":"g","type":"nominal"},"xOffset":{"field":"i","type":"ordinal","scale":{"type":"point","padding":1.5,"domain":[1,2,3,4,5,6,7,8,9,10]}},"y":{"field":"v","type":"quantitative"},"color":{"field":"g","type":"nominal","scale":{"domain":["Non-rej","Rej"],"range":["#3b5cc6","#d42b37"]},"legend":null}}},
      {"data":{"name":"one"},"mark":{"type":"rule","color":"#9a9a9a","strokeWidth":0.8},"encoding":{"x":{"datum":"Non-rej"},"x2":{"datum":"Rej"},"y":{"datum":6.7}}},
      {"data":{"name":"one"},"mark":{"type":"text","fontSize":6.5,"fontStyle":"italic","baseline":"bottom","dy":-1,"dx":14,"color":"#555"},"encoding":{"x":{"datum":"Non-rej"},"y":{"datum":6.7},"text":{"value":"p-FDR=0.0021"}}}
     ]},
    {"title":{"text":"CD28","fontSize":8.5,"fontStyle":"italic","fontWeight":"normal","offset":6},"width":62,"height":80,"data":{"name":"expr"},"transform":[{"filter":"datum.k==='CD28'"}],
     "layer":[
      {"mark":{"type":"boxplot","extent":"min-max","size":20,"box":{"fill":"white","stroke":"#8c8c8c","strokeWidth":1},"median":{"color":"#8c8c8c","strokeWidth":1},"rule":{"color":"#8c8c8c"},"ticks":{"color":"#8c8c8c","size":9}},
       "encoding":{"x":{"field":"g","type":"nominal","scale":{"domain":["Non-rej","Rej"],"paddingInner":0,"paddingOuter":0.1},"axis":{"title":null,"labelAngle":0,"labelFontSize":8,"ticks":false,"domainColor":"#8c8c8c","labelColor":"#222","labelPadding":3}},
        "y":{"field":"v","type":"quantitative","scale":{"domain":[0,6],"nice":false},"axis":{"values":[0,2,4,6],"title":"Normalized expression","titleFontSize":7,"titleFontWeight":"normal","titleColor":"#222","titlePadding":2,"labelFontSize":7,"labelColor":"#222","labelPadding":1,"tickSize":2.5,"tickColor":"#8c8c8c","domainColor":"#8c8c8c","grid":false}}}},
      {"mark":{"type":"circle","size":20,"opacity":1},"encoding":{"x":{"field":"g","type":"nominal"},"xOffset":{"field":"i","type":"ordinal","scale":{"type":"point","padding":1.5,"domain":[1,2,3,4,5,6,7,8,9,10]}},"y":{"field":"v","type":"quantitative"},"color":{"field":"g","type":"nominal","scale":{"domain":["Non-rej","Rej"],"range":["#3b5cc6","#d42b37"]},"legend":null}}},
      {"data":{"name":"one"},"mark":{"type":"rule","color":"#9a9a9a","strokeWidth":0.8},"encoding":{"x":{"datum":"Non-rej"},"x2":{"datum":"Rej"},"y":{"datum":6.0}}},
      {"data":{"name":"one"},"mark":{"type":"text","fontSize":6.5,"fontStyle":"italic","baseline":"bottom","dy":-1,"dx":14,"color":"#555"},"encoding":{"x":{"datum":"Non-rej"},"y":{"datum":6.0},"text":{"value":"p-FDR=0.0038"}}}
     ]}
   ]}]},
  {"title":{"text":"D","anchor":"start","frame":"bounds","fontSize":13,"fontWeight":"bold","offset":-13,"dx":-4},
   "vconcat":[{"title":{"text":"Immune checkpoints","fontSize":11,"fontWeight":"normal","offset":10,"anchor":"middle"},
    "spacing":4,
    "hconcat":[
    {"title":{"text":"LAG3","fontSize":8.5,"fontStyle":"italic","fontWeight":"normal","offset":6},"width":62,"height":80,"data":{"name":"expr"},"transform":[{"filter":"datum.k==='LAG3'"}],
     "layer":[
      {"mark":{"type":"boxplot","extent":"min-max","size":20,"box":{"fill":"white","stroke":"#8c8c8c","strokeWidth":1},"median":{"color":"#8c8c8c","strokeWidth":1},"rule":{"color":"#8c8c8c"},"ticks":{"color":"#8c8c8c","size":9}},
       "encoding":{"x":{"field":"g","type":"nominal","scale":{"domain":["Non-rej","Rej"],"paddingInner":0,"paddingOuter":0.1},"axis":{"title":null,"labelAngle":0,"labelFontSize":8,"ticks":false,"domainColor":"#8c8c8c","labelColor":"#222","labelPadding":3}},
        "y":{"field":"v","type":"quantitative","scale":{"domain":[0,8],"nice":false},"axis":{"values":[0,2,4,6,8],"title":"Normalized expression","titleFontSize":7,"titleFontWeight":"normal","titleColor":"#222","titlePadding":2,"labelFontSize":7,"labelColor":"#222","labelPadding":1,"tickSize":2.5,"tickColor":"#8c8c8c","domainColor":"#8c8c8c","grid":false}}}},
      {"mark":{"type":"circle","size":20,"opacity":1},"encoding":{"x":{"field":"g","type":"nominal"},"xOffset":{"field":"i","type":"ordinal","scale":{"type":"point","padding":1.5,"domain":[1,2,3,4,5,6,7,8,9,10]}},"y":{"field":"v","type":"quantitative"},"color":{"field":"g","type":"nominal","scale":{"domain":["Non-rej","Rej"],"range":["#3b5cc6","#d42b37"]},"legend":null}}},
      {"data":{"name":"one"},"mark":{"type":"rule","color":"#9a9a9a","strokeWidth":0.8},"encoding":{"x":{"datum":"Non-rej"},"x2":{"datum":"Rej"},"y":{"datum":8.0}}},
      {"data":{"name":"one"},"mark":{"type":"text","fontSize":6.5,"fontStyle":"italic","baseline":"bottom","dy":-1,"dx":14,"color":"#555"},"encoding":{"x":{"datum":"Non-rej"},"y":{"datum":8.0},"text":{"value":"p-FDR=0.0020"}}}
     ]},
    {"title":{"text":"CTLA4","fontSize":8.5,"fontStyle":"italic","fontWeight":"normal","offset":6},"width":62,"height":80,"data":{"name":"expr"},"transform":[{"filter":"datum.k==='CTLA4'"}],
     "layer":[
      {"mark":{"type":"boxplot","extent":"min-max","size":20,"box":{"fill":"white","stroke":"#8c8c8c","strokeWidth":1},"median":{"color":"#8c8c8c","strokeWidth":1},"rule":{"color":"#8c8c8c"},"ticks":{"color":"#8c8c8c","size":9}},
       "encoding":{"x":{"field":"g","type":"nominal","scale":{"domain":["Non-rej","Rej"],"paddingInner":0,"paddingOuter":0.1},"axis":{"title":null,"labelAngle":0,"labelFontSize":8,"ticks":false,"domainColor":"#8c8c8c","labelColor":"#222","labelPadding":3}},
        "y":{"field":"v","type":"quantitative","scale":{"domain":[0,8],"nice":false},"axis":{"values":[0,2,4,6,8],"title":"Normalized expression","titleFontSize":7,"titleFontWeight":"normal","titleColor":"#222","titlePadding":2,"labelFontSize":7,"labelColor":"#222","labelPadding":1,"tickSize":2.5,"tickColor":"#8c8c8c","domainColor":"#8c8c8c","grid":false}}}},
      {"mark":{"type":"circle","size":20,"opacity":1},"encoding":{"x":{"field":"g","type":"nominal"},"xOffset":{"field":"i","type":"ordinal","scale":{"type":"point","padding":1.5,"domain":[1,2,3,4,5,6,7,8,9,10]}},"y":{"field":"v","type":"quantitative"},"color":{"field":"g","type":"nominal","scale":{"domain":["Non-rej","Rej"],"range":["#3b5cc6","#d42b37"]},"legend":null}}},
      {"data":{"name":"one"},"mark":{"type":"rule","color":"#9a9a9a","strokeWidth":0.8},"encoding":{"x":{"datum":"Non-rej"},"x2":{"datum":"Rej"},"y":{"datum":7.4}}},
      {"data":{"name":"one"},"mark":{"type":"text","fontSize":6.5,"fontStyle":"italic","baseline":"bottom","dy":-1,"dx":14,"color":"#555"},"encoding":{"x":{"datum":"Non-rej"},"y":{"datum":7.4},"text":{"value":"p-FDR=0.0056"}}}
     ]},
    {"title":{"text":"CD274","fontSize":8.5,"fontStyle":"italic","fontWeight":"normal","offset":6},"width":62,"height":80,"data":{"name":"expr"},"transform":[{"filter":"datum.k==='CD274'"}],
     "layer":[
      {"mark":{"type":"boxplot","extent":"min-max","size":20,"box":{"fill":"white","stroke":"#8c8c8c","strokeWidth":1},"median":{"color":"#8c8c8c","strokeWidth":1},"rule":{"color":"#8c8c8c"},"ticks":{"color":"#8c8c8c","size":9}},
       "encoding":{"x":{"field":"g","type":"nominal","scale":{"domain":["Non-rej","Rej"],"paddingInner":0,"paddingOuter":0.1},"axis":{"title":null,"labelAngle":0,"labelFontSize":8,"ticks":false,"domainColor":"#8c8c8c","labelColor":"#222","labelPadding":3}},
        "y":{"field":"v","type":"quantitative","scale":{"domain":[0,10],"nice":false},"axis":{"values":[0,2,4,6,8,10],"title":"Normalized expression","titleFontSize":7,"titleFontWeight":"normal","titleColor":"#222","titlePadding":2,"labelFontSize":7,"labelColor":"#222","labelPadding":1,"tickSize":2.5,"tickColor":"#8c8c8c","domainColor":"#8c8c8c","grid":false}}}},
      {"mark":{"type":"circle","size":20,"opacity":1},"encoding":{"x":{"field":"g","type":"nominal"},"xOffset":{"field":"i","type":"ordinal","scale":{"type":"point","padding":1.5,"domain":[1,2,3,4,5,6,7,8,9,10]}},"y":{"field":"v","type":"quantitative"},"color":{"field":"g","type":"nominal","scale":{"domain":["Non-rej","Rej"],"range":["#3b5cc6","#d42b37"]},"legend":null}}},
      {"data":{"name":"one"},"mark":{"type":"rule","color":"#9a9a9a","strokeWidth":0.8},"encoding":{"x":{"datum":"Non-rej"},"x2":{"datum":"Rej"},"y":{"datum":8.9}}},
      {"data":{"name":"one"},"mark":{"type":"text","fontSize":6.5,"fontStyle":"italic","baseline":"bottom","dy":-1,"dx":14,"color":"#555"},"encoding":{"x":{"datum":"Non-rej"},"y":{"datum":8.9},"text":{"value":"p-FDR=0.0065"}}}
     ]}
   ]}]}
  ]},
 {"title":{"text":"E","anchor":"start","frame":"bounds","fontSize":13,"fontWeight":"bold","offset":-13,"dx":-13},
  "vconcat":[{"title":{"text":"Effector molecules","fontSize":11,"fontWeight":"normal","offset":10,"anchor":"middle"},
   "spacing":4,
   "hconcat":[
    {"title":{"text":"GZMB","fontSize":8.5,"fontStyle":"italic","fontWeight":"normal","offset":6},"width":62,"height":80,"data":{"name":"expr"},"transform":[{"filter":"datum.k==='GZMB'"}],
     "layer":[
      {"mark":{"type":"boxplot","extent":"min-max","size":20,"box":{"fill":"white","stroke":"#8c8c8c","strokeWidth":1},"median":{"color":"#8c8c8c","strokeWidth":1},"rule":{"color":"#8c8c8c"},"ticks":{"color":"#8c8c8c","size":9}},
       "encoding":{"x":{"field":"g","type":"nominal","scale":{"domain":["Non-rej","Rej"],"paddingInner":0,"paddingOuter":0.1},"axis":{"title":null,"labelAngle":0,"labelFontSize":8,"ticks":false,"domainColor":"#8c8c8c","labelColor":"#222","labelPadding":3}},
        "y":{"field":"v","type":"quantitative","scale":{"domain":[0,10],"nice":false},"axis":{"values":[0,2,4,6,8,10],"title":"Normalized expression","titleFontSize":7,"titleFontWeight":"normal","titleColor":"#222","titlePadding":2,"labelFontSize":7,"labelColor":"#222","labelPadding":1,"tickSize":2.5,"tickColor":"#8c8c8c","domainColor":"#8c8c8c","grid":false}}}},
      {"mark":{"type":"circle","size":20,"opacity":1},"encoding":{"x":{"field":"g","type":"nominal"},"xOffset":{"field":"i","type":"ordinal","scale":{"type":"point","padding":1.5,"domain":[1,2,3,4,5,6,7,8,9,10]}},"y":{"field":"v","type":"quantitative"},"color":{"field":"g","type":"nominal","scale":{"domain":["Non-rej","Rej"],"range":["#3b5cc6","#d42b37"]},"legend":null}}},
      {"data":{"name":"one"},"mark":{"type":"rule","color":"#9a9a9a","strokeWidth":0.8},"encoding":{"x":{"datum":"Non-rej"},"x2":{"datum":"Rej"},"y":{"datum":10.1}}},
      {"data":{"name":"one"},"mark":{"type":"text","fontSize":6.5,"fontStyle":"italic","baseline":"bottom","dy":-1,"dx":14,"color":"#555"},"encoding":{"x":{"datum":"Non-rej"},"y":{"datum":10.1},"text":{"value":"p-FDR=0.0018"}}}
     ]},
    {"title":{"text":"GZMA","fontSize":8.5,"fontStyle":"italic","fontWeight":"normal","offset":6},"width":62,"height":80,"data":{"name":"expr"},"transform":[{"filter":"datum.k==='GZMA'"}],
     "layer":[
      {"mark":{"type":"boxplot","extent":"min-max","size":20,"box":{"fill":"white","stroke":"#8c8c8c","strokeWidth":1},"median":{"color":"#8c8c8c","strokeWidth":1},"rule":{"color":"#8c8c8c"},"ticks":{"color":"#8c8c8c","size":9}},
       "encoding":{"x":{"field":"g","type":"nominal","scale":{"domain":["Non-rej","Rej"],"paddingInner":0,"paddingOuter":0.1},"axis":{"title":null,"labelAngle":0,"labelFontSize":8,"ticks":false,"domainColor":"#8c8c8c","labelColor":"#222","labelPadding":3}},
        "y":{"field":"v","type":"quantitative","scale":{"domain":[0,10],"nice":false},"axis":{"values":[0,2,4,6,8,10],"title":"Normalized expression","titleFontSize":7,"titleFontWeight":"normal","titleColor":"#222","titlePadding":2,"labelFontSize":7,"labelColor":"#222","labelPadding":1,"tickSize":2.5,"tickColor":"#8c8c8c","domainColor":"#8c8c8c","grid":false}}}},
      {"mark":{"type":"circle","size":20,"opacity":1},"encoding":{"x":{"field":"g","type":"nominal"},"xOffset":{"field":"i","type":"ordinal","scale":{"type":"point","padding":1.5,"domain":[1,2,3,4,5,6,7,8,9,10]}},"y":{"field":"v","type":"quantitative"},"color":{"field":"g","type":"nominal","scale":{"domain":["Non-rej","Rej"],"range":["#3b5cc6","#d42b37"]},"legend":null}}},
      {"data":{"name":"one"},"mark":{"type":"rule","color":"#9a9a9a","strokeWidth":0.8},"encoding":{"x":{"datum":"Non-rej"},"x2":{"datum":"Rej"},"y":{"datum":8.3}}},
      {"data":{"name":"one"},"mark":{"type":"text","fontSize":6.5,"fontStyle":"italic","baseline":"bottom","dy":-1,"dx":14,"color":"#555"},"encoding":{"x":{"datum":"Non-rej"},"y":{"datum":8.3},"text":{"value":"p-FDR=0.0026"}}}
     ]},
    {"title":{"text":"KLRK1","fontSize":8.5,"fontStyle":"italic","fontWeight":"normal","offset":6},"width":62,"height":80,"data":{"name":"expr"},"transform":[{"filter":"datum.k==='KLRK1'"}],
     "layer":[
      {"mark":{"type":"boxplot","extent":"min-max","size":20,"box":{"fill":"white","stroke":"#8c8c8c","strokeWidth":1},"median":{"color":"#8c8c8c","strokeWidth":1},"rule":{"color":"#8c8c8c"},"ticks":{"color":"#8c8c8c","size":9}},
       "encoding":{"x":{"field":"g","type":"nominal","scale":{"domain":["Non-rej","Rej"],"paddingInner":0,"paddingOuter":0.1},"axis":{"title":null,"labelAngle":0,"labelFontSize":8,"ticks":false,"domainColor":"#8c8c8c","labelColor":"#222","labelPadding":3}},
        "y":{"field":"v","type":"quantitative","scale":{"domain":[0,10],"nice":false},"axis":{"values":[0,2,4,6,8,10],"title":"Normalized expression","titleFontSize":7,"titleFontWeight":"normal","titleColor":"#222","titlePadding":2,"labelFontSize":7,"labelColor":"#222","labelPadding":1,"tickSize":2.5,"tickColor":"#8c8c8c","domainColor":"#8c8c8c","grid":false}}}},
      {"mark":{"type":"circle","size":20,"opacity":1},"encoding":{"x":{"field":"g","type":"nominal"},"xOffset":{"field":"i","type":"ordinal","scale":{"type":"point","padding":1.5,"domain":[1,2,3,4,5,6,7,8,9,10]}},"y":{"field":"v","type":"quantitative"},"color":{"field":"g","type":"nominal","scale":{"domain":["Non-rej","Rej"],"range":["#3b5cc6","#d42b37"]},"legend":null}}},
      {"data":{"name":"one"},"mark":{"type":"rule","color":"#9a9a9a","strokeWidth":0.8},"encoding":{"x":{"datum":"Non-rej"},"x2":{"datum":"Rej"},"y":{"datum":8.6}}},
      {"data":{"name":"one"},"mark":{"type":"text","fontSize":6.5,"fontStyle":"italic","baseline":"bottom","dy":-1,"dx":14,"color":"#555"},"encoding":{"x":{"datum":"Non-rej"},"y":{"datum":8.6},"text":{"value":"p-FDR=0.0052"}}}
     ]},
    {"title":{"text":"GNLY","fontSize":8.5,"fontStyle":"italic","fontWeight":"normal","offset":6},"width":62,"height":80,"data":{"name":"expr"},"transform":[{"filter":"datum.k==='GNLY'"}],
     "layer":[
      {"mark":{"type":"boxplot","extent":"min-max","size":20,"box":{"fill":"white","stroke":"#8c8c8c","strokeWidth":1},"median":{"color":"#8c8c8c","strokeWidth":1},"rule":{"color":"#8c8c8c"},"ticks":{"color":"#8c8c8c","size":9}},
       "encoding":{"x":{"field":"g","type":"nominal","scale":{"domain":["Non-rej","Rej"],"paddingInner":0,"paddingOuter":0.1},"axis":{"title":null,"labelAngle":0,"labelFontSize":8,"ticks":false,"domainColor":"#8c8c8c","labelColor":"#222","labelPadding":3}},
        "y":{"field":"v","type":"quantitative","scale":{"domain":[0,10],"nice":false},"axis":{"values":[0,2,4,6,8,10],"title":"Normalized expression","titleFontSize":7,"titleFontWeight":"normal","titleColor":"#222","titlePadding":2,"labelFontSize":7,"labelColor":"#222","labelPadding":1,"tickSize":2.5,"tickColor":"#8c8c8c","domainColor":"#8c8c8c","grid":false}}}},
      {"mark":{"type":"circle","size":20,"opacity":1},"encoding":{"x":{"field":"g","type":"nominal"},"xOffset":{"field":"i","type":"ordinal","scale":{"type":"point","padding":1.5,"domain":[1,2,3,4,5,6,7,8,9,10]}},"y":{"field":"v","type":"quantitative"},"color":{"field":"g","type":"nominal","scale":{"domain":["Non-rej","Rej"],"range":["#3b5cc6","#d42b37"]},"legend":null}}},
      {"data":{"name":"one"},"mark":{"type":"rule","color":"#9a9a9a","strokeWidth":0.8},"encoding":{"x":{"datum":"Non-rej"},"x2":{"datum":"Rej"},"y":{"datum":9.0}}},
      {"data":{"name":"one"},"mark":{"type":"text","fontSize":6.5,"fontStyle":"italic","baseline":"bottom","dy":-1,"dx":14,"color":"#555"},"encoding":{"x":{"datum":"Non-rej"},"y":{"datum":9.0},"text":{"value":"p-FDR=0.0073"}}}
     ]}
   ]}]}
 ]}
]
}
